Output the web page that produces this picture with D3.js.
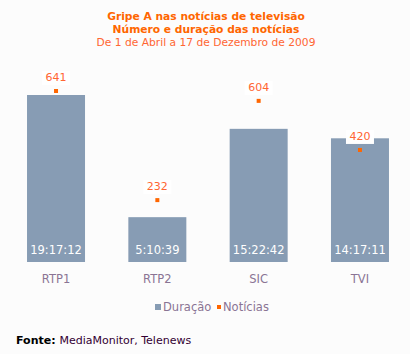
<!DOCTYPE html>
<html>
<head>
<meta charset="utf-8">
<script src="https://cdn.jsdelivr.net/npm/d3@7"></script>
<style>
  body { margin: 0; background: #ffffff; }
  svg { display: block; font-family: "DejaVu Sans", Verdana, sans-serif; }
</style>
</head>
<body>
<div id="container"></div>
<script>
const canais = ['RTP1', 'RTP2', 'SIC', 'TVI'];
const duracao = ['19:17:12', '5:10:39', '15:22:42', '14:17:11'];
const noticias = [641, 232, 604, 420];

const toSeconds = t => {
    const [h, m, s] = t.split(':').map(Number);
    return h * 3600 + m * 60 + s;
};

const width = 413, height = 354;
const baseY = 262;

const svg = d3.select('#container')
    .append('svg')
    .attr('width', width)
    .attr('height', height);

svg.append('rect')
    .attr('width', 410)
    .attr('height', height)
    .attr('fill', '#fcfcfc');

// titles
const titles = [
    { text: 'Gripe A nas notícias de televisão', y: 20, bold: true, color: '#ff6600' },
    { text: 'Número e duração das notícias', y: 33, bold: true, color: '#ff6600' },
    { text: 'De 1 de Abril a 17 de Dezembro de 2009', y: 46, bold: false, color: '#ff6633' }
];
svg.selectAll('text.title')
    .data(titles)
    .enter()
    .append('text')
    .attr('class', 'title')
    .attr('x', 206)
    .attr('y', d => d.y)
    .attr('text-anchor', 'middle')
    .attr('font-size', 10.7)
    .attr('font-weight', d => d.bold ? 'bold' : 'normal')
    .attr('fill', d => d.color)
    .text(d => d.text);

const x = d3.scaleBand()
    .domain(canais)
    .range([1.7, 414.3])
    .paddingInner(0.4276)
    .paddingOuter(0.25);

// durations: 69432 s -> 167 px
const yDur = d3.scaleLinear()
    .domain([0, 69432])
    .range([baseY, 95]);

// news count: 641 -> 91
const yNot = d3.scaleLinear()
    .domain([0, 641])
    .range([baseY, 91]);

const data = canais.map((c, i) => ({
    canal: c,
    dur: duracao[i],
    secs: toSeconds(duracao[i]),
    n: noticias[i]
}));

svg.selectAll('rect.bar')
    .data(data)
    .enter()
    .append('rect')
    .attr('class', 'bar')
    .attr('x', d => x(d.canal))
    .attr('y', d => yDur(d.secs))
    .attr('width', x.bandwidth())
    .attr('height', d => baseY - yDur(d.secs))
    .attr('fill', '#879cb4');

svg.selectAll('text.dur')
    .data(data)
    .enter()
    .append('text')
    .attr('class', 'dur')
    .attr('x', d => x(d.canal) + x.bandwidth() / 2)
    .attr('y', baseY - 8)
    .attr('text-anchor', 'middle')
    .attr('font-size', 11.5)
    .attr('fill', '#ffffff')
    .text(d => d.dur);

// news markers and labels
const cx = d => x(d.canal) + x.bandwidth() / 2;

svg.selectAll('rect.lblbg')
    .data(data)
    .enter()
    .append('rect')
    .attr('class', 'lblbg')
    .attr('x', d => cx(d) - 14)
    .attr('y', d => yNot(d.n) - 20)
    .attr('width', 28)
    .attr('height', 14)
    .attr('fill', '#ffffff');

svg.selectAll('text.not')
    .data(data)
    .enter()
    .append('text')
    .attr('class', 'not')
    .attr('x', cx)
    .attr('y', d => yNot(d.n) - 10)
    .attr('text-anchor', 'middle')
    .attr('font-size', 11)
    .attr('fill', '#ff6633')
    .text(d => d.n);

svg.selectAll('rect.mark')
    .data(data)
    .enter()
    .append('rect')
    .attr('class', 'mark')
    .attr('x', d => cx(d) - 2)
    .attr('y', d => yNot(d.n) - 2)
    .attr('width', 4)
    .attr('height', 4)
    .attr('fill', '#ff6600');

// category axis
const xAxis = svg.append('g')
    .attr('transform', `translate(0, ${baseY})`)
    .call(d3.axisBottom(x).tickSize(0).tickPadding(13));
xAxis.select('.domain').remove();
xAxis.selectAll('text')
    .attr('font-family', '"DejaVu Sans", Verdana, sans-serif')
    .attr('font-size', 11.5)
    .attr('fill', '#8a7494');

// legend
const legend = [
    { label: 'Duração', color: '#879cb4', x: 155, size: 6 },
    { label: 'Notícias', color: '#ff6600', x: 217, size: 4 }
];
const lg = svg.selectAll('g.legend')
    .data(legend)
    .enter()
    .append('g')
    .attr('class', 'legend')
    .attr('transform', d => `translate(${d.x}, 307)`);
lg.append('rect')
    .attr('x', 0)
    .attr('y', d => -d.size / 2)
    .attr('width', d => d.size)
    .attr('height', d => d.size)
    .attr('fill', d => d.color);
lg.append('text')
    .attr('x', d => d.size + 2)
    .attr('y', 4)
    .attr('font-size', 11.5)
    .attr('fill', '#8a7494')
    .text(d => d.label);

// source
const fonte = svg.append('text')
    .attr('x', 16)
    .attr('y', 344)
    .attr('font-size', 11);
fonte.append('tspan')
    .attr('font-weight', 'bold')
    .attr('fill', '#000000')
    .text('Fonte: ');
fonte.append('tspan')
    .attr('fill', '#330033')
    .text('MediaMonitor, Telenews');
</script>
</body>
</html>
